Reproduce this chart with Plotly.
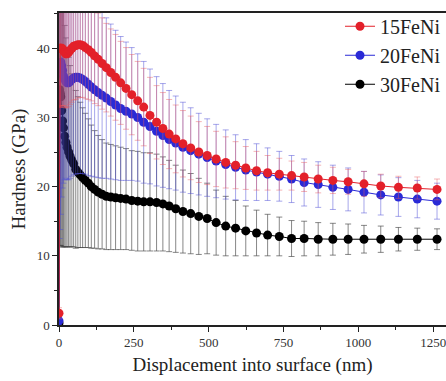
import plotly.graph_objects as go

# Displacement into surface (nm), shared by all three samples
depth = [0, 2, 4, 6, 9, 12, 15, 19, 23, 27, 32, 37, 43, 49, 56, 63, 71, 79, 88, 98,
         108, 119, 131, 144, 158, 173, 189, 206, 224, 243, 263, 283, 304, 326, 347,
         368, 390, 414, 440, 467, 495, 525, 557, 590, 624, 660, 697, 736, 777, 819,
         866, 915, 966, 1019, 1075, 1134, 1197, 1263]

# Hardness (GPa)
h_15 = [1.7, 40.0, 40.0, 40.0, 40.0, 39.9, 39.7, 39.4, 39.2, 39.2, 39.4, 39.7, 40.0,
        40.3, 40.4, 40.5, 40.5, 40.4, 40.1, 39.8, 39.4, 38.9, 38.4, 37.8, 37.2, 36.5,
        35.8, 35.0, 34.2, 33.3, 32.4, 31.5, 30.3, 29.3, 28.4, 27.6, 26.9, 26.2, 25.6,
        25.0, 24.5, 24.0, 23.5, 23.1, 22.7, 22.3, 22.0, 21.8, 21.6, 21.4, 21.1, 20.9,
        20.7, 20.4, 20.1, 19.9, 19.8, 19.6]
h_20 = [0.6, 37.5, 37.8, 38.0, 37.5, 36.8, 36.0, 35.5, 35.2, 35.0, 35.0, 35.2, 35.5,
        35.7, 35.8, 35.8, 35.7, 35.5, 35.2, 34.8, 34.4, 34.0, 33.6, 33.2, 32.8, 32.3,
        31.8, 31.3, 30.9, 30.5, 30.0, 29.3, 28.7, 28.0, 27.4, 26.8, 26.3, 25.7, 25.2,
        24.7, 24.2, 23.7, 23.2, 22.8, 22.4, 22.1, 21.8, 21.5, 21.1, 20.6, 20.3, 19.9,
        19.6, 19.2, 18.8, 18.5, 18.2, 17.9]
h_30 = [0.3, 34.0, 33.5, 33.0, 31.0, 29.5, 28.5, 27.3, 26.4, 25.7, 25.0, 24.4, 23.8,
        23.3, 22.5, 22.1, 21.7, 21.3, 20.9, 20.5, 20.0, 19.6, 19.2, 18.9, 18.6, 18.5,
        18.4, 18.3, 18.2, 18.0, 17.9, 17.8, 17.8, 17.7, 17.5, 17.2, 16.8, 16.4, 16.1,
        15.7, 15.4, 14.8, 14.3, 14.0, 13.6, 13.3, 13.0, 12.8, 12.5, 12.5, 12.4, 12.4,
        12.4, 12.4, 12.4, 12.4, 12.4, 12.4]

# Standard deviations (GPa)
sd_15 = [0.8, 8.5, 8.5, 8.5, 8.3, 8.2, 8.0, 7.9, 7.8, 7.8, 7.8, 7.8, 7.8, 7.8, 7.8,
         7.7, 7.6, 7.5, 7.4, 7.2, 7.0, 6.9, 6.7, 6.6, 6.4, 6.3, 6.2, 6.0, 5.9, 5.8,
         5.7, 5.6, 5.5, 5.3, 5.2, 5.0, 4.9, 4.8, 4.6, 4.4, 4.2, 4.0, 3.7, 3.4, 3.1,
         2.8, 2.5, 2.3, 2.1, 2.1, 2.0, 1.9, 1.8, 1.8, 1.7, 1.6, 1.6, 1.5]
sd_20 = [0.5, 25.0, 24.0, 22.0, 19.0, 17.0, 15.5, 14.5, 14.0, 14.0, 14.0, 14.0, 14.0,
         14.0, 14.0, 13.9, 13.8, 13.6, 13.4, 13.2, 12.9, 12.6, 12.3, 12.0, 11.6, 11.2,
         10.8, 10.4, 10.0, 9.6, 9.2, 8.8, 8.3, 7.9, 7.5, 7.1, 6.8, 6.5, 6.2, 5.9, 5.6,
         5.3, 5.0, 4.7, 4.4, 4.1, 3.8, 3.6, 3.4, 3.4, 3.3, 3.2, 3.1, 3.0, 2.9, 2.8,
         2.7, 2.6]
sd_30 = [0.3, 22.5, 22.0, 21.5, 19.7, 18.2, 17.2, 16.0, 15.1, 14.4, 13.7, 13.1, 12.5,
         12.0, 11.4, 10.9, 10.5, 10.1, 9.7, 9.3, 8.9, 8.5, 8.2, 7.9, 7.7, 7.6, 7.5,
         7.4, 7.3, 7.2, 7.2, 7.1, 7.1, 7.0, 6.8, 6.6, 6.3, 6.0, 5.8, 5.5, 5.1, 4.7,
         4.3, 4.0, 3.6, 3.3, 3.0, 2.8, 2.6, 2.5, 2.4, 2.3, 2.2, 2.0, 1.9, 1.7, 1.6, 1.5]

x_ticks = [0, 250, 500, 750, 1000, 1250]
y_ticks = [0, 10, 20, 30, 40]

FONT = "Liberation Serif, Times New Roman, serif"

series = [
    ("30FeNi", h_30, sd_30, "#000000", "rgba(70,70,70,0.65)", 3),
    ("20FeNi", h_20, sd_20, "#2a2ad6", "rgba(80,80,215,0.5)", 2),
    ("15FeNi", h_15, sd_15, "#e3202a", "rgba(232,90,95,0.45)", 1),
]

fig = go.Figure()
for name, h, sd, col, ecol, rank in series:
    fig.add_trace(go.Scatter(
        x=depth, y=h, name=name, mode="lines+markers",
        line=dict(color=col, width=1),
        marker=dict(color=col, size=9),
        error_y=dict(type="data", array=sd, visible=True,
                     color=ecol, thickness=1, width=3),
        legendrank=rank,
    ))

axis_common = dict(
    showgrid=False, zeroline=False, showline=True, linecolor="#222",
    linewidth=1.5, ticks="outside", ticklen=5, tickwidth=1.2, tickcolor="#222",
    tickfont=dict(family=FONT, size=13, color="#333"),
    ticklabeloverflow="allow",
    minor=dict(ticks="outside", ticklen=3, tickwidth=1.2, tickcolor="#222"),
)

fig.update_xaxes(
    range=[0, 1293], tickvals=x_ticks, minor_dtick=125, mirror=True,
    title=dict(text="Displacement into surface (nm)",
               font=dict(family=FONT, size=19, color="#222"), standoff=8),
    **axis_common,
)
fig.update_yaxes(
    range=[0, 45.1], tickvals=y_ticks, minor_dtick=5,
    title=dict(text="Hardness (GPa)",
               font=dict(family=FONT, size=19, color="#222"), standoff=6),
    **axis_common,
)

fig.update_layout(
    width=446, height=381,
    margin=dict(l=59, r=0, t=13, b=56),
    paper_bgcolor="white", plot_bgcolor="white",
    showlegend=True,
    legend=dict(x=1.0, y=1.02, xanchor="right", yanchor="top",
                bgcolor="rgba(0,0,0,0)", itemwidth=30,
                font=dict(family=FONT, size=20, color="#222"),
                tracegroupgap=0),
)

fig.write_html("out.html")
